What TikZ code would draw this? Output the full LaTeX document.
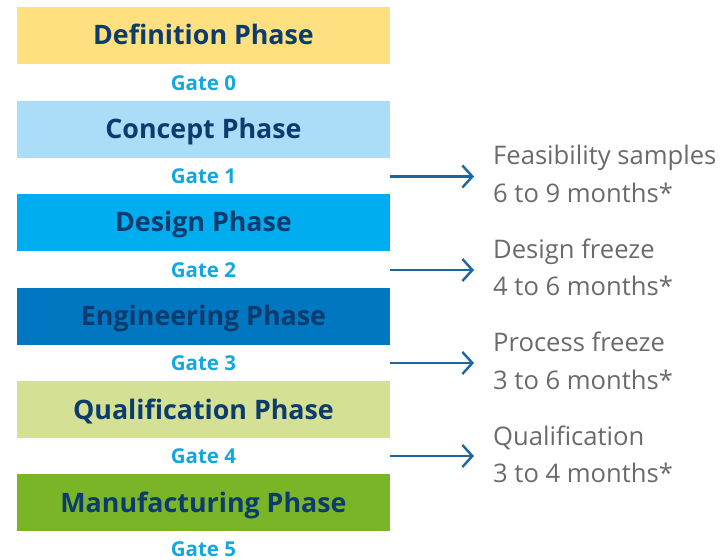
\documentclass[tikz,border=0pt]{standalone}
\usepackage{fontspec}
\setmainfont{Open Sans}
\usetikzlibrary{arrows.meta,positioning}
\definecolor{navy}{RGB}{12,60,109}
\definecolor{gatecyan}{RGB}{17,168,224}
\definecolor{arrowblue}{RGB}{29,102,160}
\definecolor{notegray}{RGB}{106,106,106}
\definecolor{defyellow}{RGB}{254,224,128}
\definecolor{conceptblue}{RGB}{171,221,248}
\definecolor{designcyan}{RGB}{0,174,239}
\definecolor{engblue}{RGB}{0,119,192}
\definecolor{qualgreen}{RGB}{212,224,148}
\definecolor{mfggreen}{RGB}{122,180,39}

\begin{document}
\begin{tikzpicture}[
    x=1pt, y=-1pt,
    phase/.style={rectangle, inner sep=0pt, minimum width=373pt, minimum height=57pt,
        text height=19pt, text depth=0pt, font=\fontsize{26.8}{30}\selectfont\bfseries, text=navy},
    gate/.style={inner sep=0pt, text height=14.5pt, text depth=0pt,
        font=\fontsize{20.5}{24}\selectfont\bfseries, text=gatecyan},
    note/.style={inner sep=0pt, anchor=base west, align=left,
        font=\fontsize{25.6}{37.5}\selectfont, text=notegray},
    arrow/.style={-{Straight Barb[length=10pt, width=22pt, line width=2.4pt]}, line width=2.4pt, arrowblue, shorten >=19pt}
]
\useasboundingbox (0,0) rectangle (721,560);

% ------------------ Phases ------------------
\node[phase, fill=defyellow] (definition) at (203.5,35) {Definition Phase};
\node[phase, fill=conceptblue] (concept) at (203.5,129) {Concept Phase};
\node[phase, fill=designcyan] (design) at (203.5,222) {Design Phase};
\node[phase, fill=engblue] (engineering) at (203.5,316) {Engineering Phase};
\node[phase, fill=qualgreen] (qualification) at (203.5,409.5) {Qualification Phase};
\node[phase, fill=mfggreen] (manufacturing) at (203.5,502.5) {Manufacturing Phase};

% ------------------ Gates ------------------
\node[gate] (gate0) at (203.5,83.5) {Gate 0};
\node[gate] (gate1) at (203.5,176.5) {Gate 1};
\node[gate] (gate2) at (203.5,270) {Gate 2};
\node[gate] (gate3) at (203.5,363) {Gate 3};
\node[gate] (gate4) at (203.5,456) {Gate 4};
\node[gate] (gate5) at (203.5,549) {Gate 5};

% ------------------ Milestones (anchored on the second line) ------------------
\node[note] (feasibility) at (493,202) {Feasibility samples\\6 to 9 months*};
\node[note] (designfreeze) at (493,295.5) {Design freeze\\4 to 6 months*};
\node[note] (processfreeze) at (493,389) {Process freeze\\3 to 6 months*};
\node[note] (qualnote) at (493,482.5) {Qualification\\3 to 4 months*};

% ------------------ Arrows ------------------
\draw[arrow] (gate1 -| concept.east) -- (gate1 -| feasibility.west);
\draw[arrow] (gate2 -| design.east) -- (gate2 -| designfreeze.west);
\draw[arrow] (gate3 -| engineering.east) -- (gate3 -| processfreeze.west);
\draw[arrow] (gate4 -| qualification.east) -- (gate4 -| qualnote.west);

\end{tikzpicture}
\end{document}
